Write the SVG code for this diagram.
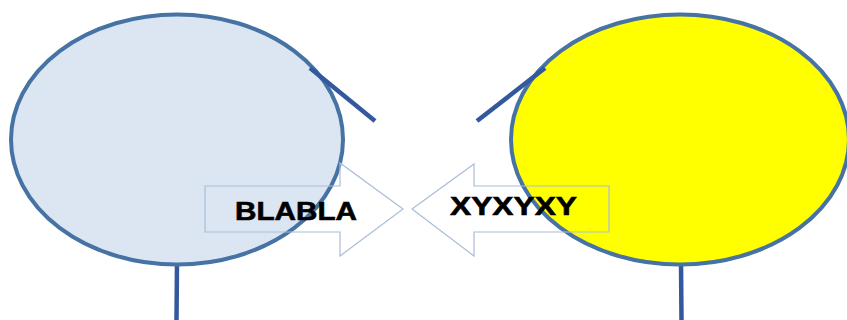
<svg xmlns="http://www.w3.org/2000/svg" width="847" height="320" viewBox="0 0 847 320">
<style>
.ell{stroke:#4673A4;stroke-width:4}
.ln{stroke:#34589E;stroke-width:4.5;fill:none}
.arr{fill:none;stroke:#A9BDD8;stroke-width:1.2}
.lbl{font-family:"Liberation Sans",Arial,sans-serif;font-weight:bold;font-size:25px;fill:#000;stroke:#000;stroke-width:0.6}
</style>
<rect width="847" height="320" fill="#fff"/>
<g id="connectors">
<line class="ln" x1="177" y1="262" x2="176.5" y2="320" stroke-width="5"/>
<line class="ln" x1="681" y1="262" x2="681.5" y2="320" stroke-width="5"/>
</g>
<g id="left-node">
<ellipse class="ell" cx="177" cy="139.5" rx="166" ry="125" fill="#DCE6F2"/>
<line class="ln" x1="310" y1="68" x2="375" y2="121"/>
</g>
<g id="right-node">
<ellipse class="ell" cx="680" cy="139.5" rx="169" ry="125" fill="#FFFF00"/>
<line class="ln" x1="477" y1="121" x2="545" y2="68"/>
</g>
<g id="arrow-right">
<polygon class="arr" points="205,186 340,186 340,163 403,209 340,256 340,232 205,232"/>
<text class="lbl" x="235" y="220" textLength="122" lengthAdjust="spacingAndGlyphs">BLABLA</text>
</g>
<g id="arrow-left">
<polygon class="arr" points="609,186 474,186 474,164 412,209 474,256 474,232 609,232"/>
<text class="lbl" x="450" y="215" textLength="127" lengthAdjust="spacingAndGlyphs">XYXYXY</text>
</g>
</svg>
